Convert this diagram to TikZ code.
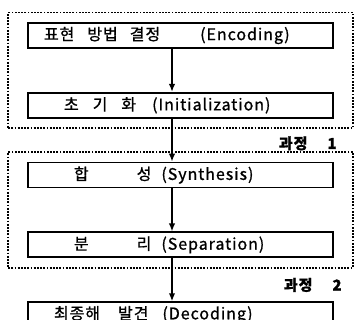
\documentclass[tikz,border=0pt]{standalone}
\usepackage{fontspec}
\newfontfamily\krfont[LetterSpace=6,FakeBold=1]{Noto Sans CJK KR}
\usetikzlibrary{positioning,fit,arrows.meta}

\begin{document}
\begin{tikzpicture}[x=1pt,y=-1pt,
		etape/.style={draw,line width=1.8pt,minimum width=305pt,minimum height=25pt,inner sep=0pt,
			text width=305pt,align=left,font=\krfont\fontsize{16}{18}\selectfont},
		cadre/.style={draw,dash pattern=on 1.8pt off 1.4pt,line width=1.8pt,inner xsep=19pt,inner ysep=9.5pt},
		fleche/.style={line width=1.6pt,-{Latex[length=8pt,width=6.5pt]}},
		titre/.style={anchor=north east,inner sep=0pt,font=\krfont\bfseries\fontsize{15}{17}\selectfont}]
	\useasboundingbox (0,0) rectangle (354,320);
	\node[etape] (enc) at (180.5,35.5) {\hspace*{16pt}표현\hspace{13pt}방법\hspace{12pt}결정\hspace{40pt}(Encoding)};
	\node[etape,below=43pt of enc] (init) {\hspace*{36pt}초\hspace{14pt}기\hspace{14pt}화\hspace{16pt}(Initialization)};
	\node[etape,below=43pt of init] (syn) {\hspace*{46pt}합\hspace{48pt}성\hspace{10pt}(Synthesis)};
	\node[etape,below=43pt of syn] (sep) {\hspace*{46pt}분\hspace{48pt}리\hspace{10pt}(Separation)};
	\node[etape,below=43pt of sep] (dec) {\hspace*{26pt}최종해\hspace{18pt}발견\hspace{14pt}(Decoding)};
	\node[cadre,fit=(enc)(init)] (proc1) {};
	\node[cadre,fit=(syn)(sep)] (proc2) {};
	\node[titre] (lab1) at ([xshift=-17pt,yshift=-7pt]proc1.south east) {과정\hspace{20pt}1};
	\node[titre] (lab2) at ([xshift=-12pt,yshift=-9pt]proc2.south east) {과정\hspace{20pt}2};
	\foreach \a/\b in {enc/init,init/syn,syn/sep,sep/dec}
		\draw[fleche] ([xshift=-8.5pt]\a.south) -- ([xshift=-8.5pt]\b.north);
\end{tikzpicture}
\end{document}
